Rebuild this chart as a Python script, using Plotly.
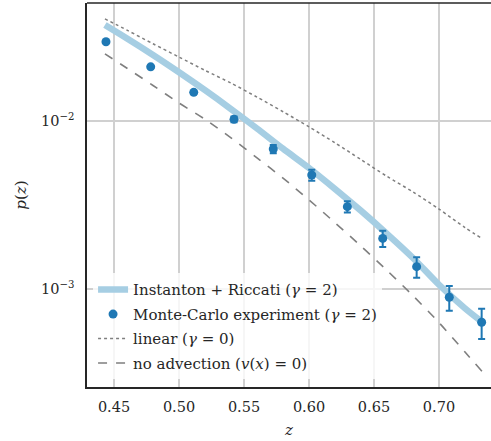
import plotly.graph_objects as go

# Instanton + Riccati curve
z_inst = [0.443, 0.46, 0.48, 0.50, 0.52, 0.54, 0.56, 0.58, 0.60, 0.62, 0.64, 0.66, 0.68, 0.70, 0.72, 0.733]
p_inst = [0.03724, 0.03097, 0.02472, 0.01950, 0.01524, 0.01178, 0.00902, 0.00684, 0.00525, 0.00394,
          0.00292, 0.00213, 0.00153, 0.00106, 0.000767, 0.000638]

# linear (gamma = 0)
z_lin = [0.443, 0.46, 0.48, 0.50, 0.52, 0.54, 0.56, 0.58, 0.60, 0.62, 0.64, 0.66, 0.68, 0.70, 0.72, 0.733]
p_lin = [0.0405, 0.0347, 0.0288, 0.0240, 0.0200, 0.0168, 0.01387, 0.01135, 0.00923, 0.00741,
         0.00589, 0.00468, 0.00378, 0.00299, 0.00232, 0.00200]

# no advection
z_noadv = [0.443, 0.46, 0.48, 0.50, 0.52, 0.54, 0.56, 0.58, 0.60, 0.62, 0.64, 0.66, 0.68, 0.70, 0.72, 0.733]
p_noadv = [0.0251, 0.0206, 0.01626, 0.01279, 0.01023, 0.00794, 0.00603, 0.00457, 0.00339, 0.00248,
           0.00180, 0.00129, 0.000912, 0.000631, 0.000422, 0.000324]

# Monte-Carlo experiment
z_mc = [0.4438, 0.4782, 0.5113, 0.5423, 0.5725, 0.6021, 0.6295, 0.6567, 0.6828, 0.7079, 0.7328]
p_mc = [0.0296, 0.0210, 0.0148, 0.01023, 0.00681, 0.00477, 0.00309, 0.00200, 0.001358, 0.000893, 0.000634]
err_mc = [0.0003, 0.0003, 0.0003, 0.0004, 0.00038, 0.00036, 0.00024, 0.00022, 0.00019, 0.00015, 0.00013]

x_ticks = [0.45, 0.50, 0.55, 0.60, 0.65, 0.70]
x_ticktext = ["0.45", "0.50", "0.55", "0.60", "0.65", "0.70"]
y_ticks = [1e-2, 1e-3]
y_ticktext = ["10<sup>−2</sup>", "10<sup>−3</sup>"]

FONT = "DejaVu Serif"
TXT = "#262626"

fig = go.Figure()
fig.add_trace(go.Scatter(x=z_inst, y=p_inst, mode="lines", name="Instanton + Riccati (<i>γ</i> = 2)",
                         legendgroup="a", line=dict(color="#a6cee3", width=6.5, shape="spline", smoothing=0.8)))
fig.add_trace(go.Scatter(x=z_mc, y=p_mc, mode="markers", name="Monte-Carlo experiment (<i>γ</i> = 2)",
                         legendgroup="b", marker=dict(color="#1f78b4", size=9),
                         error_y=dict(type="data", array=err_mc, color="#1f78b4", thickness=2, width=3.5)))
fig.add_trace(go.Scatter(x=z_lin, y=p_lin, mode="lines", name="linear (<i>γ</i> = 0)",
                         legendgroup="c", line=dict(color="#7f7f7f", width=1.5, dash="dot",
                                                    shape="spline", smoothing=0.8)))
fig.add_trace(go.Scatter(x=z_noadv, y=p_noadv, mode="lines", name="no advection (<i>v</i>(<i>x</i>) = 0)",
                         legendgroup="d", line=dict(color="#7f7f7f", width=1.6, dash="dash",
                                                    shape="spline", smoothing=0.8)))

fig.add_shape(type="line", xref="paper", yref="paper", x0=0, x1=1, y0=1, y1=1,
              line=dict(color=TXT, width=1.5))

fig.update_layout(
    width=491, height=441,
    margin=dict(l=87, r=0, t=3, b=54),
    paper_bgcolor="white", plot_bgcolor="white",
    font=dict(family=FONT, size=14.5, color=TXT),
    showlegend=True,
    legend=dict(x=0.015, y=0.02, xanchor="left", yanchor="bottom", traceorder="grouped", tracegroupgap=2,
                bgcolor="rgba(255,255,255,0.8)", font=dict(family=FONT, size=15, color=TXT)),
    xaxis=dict(range=[0.4292, 0.740], tickvals=x_ticks, ticktext=x_ticktext,
               showgrid=True, gridcolor="#d0d0d0", gridwidth=1.5, zeroline=False,
               showline=True, linecolor=TXT, linewidth=1.5, ticks="", ticklabelstandoff=6,
               title=dict(text="<i>z</i>", font=dict(size=15), standoff=10)),
    yaxis=dict(type="log", range=[-3.583, -1.298], tickvals=y_ticks, ticktext=y_ticktext,
               showgrid=True, gridcolor="#d0d0d0", gridwidth=1.5, zeroline=False,
               showline=True, linecolor=TXT, linewidth=1.5, ticks="", ticklabelstandoff=8,
               title=dict(text="<i>p</i>(<i>z</i>)", font=dict(size=15), standoff=11)),
)

fig.write_html("out.html", config={"displayModeBar": False},
               post_script="document.body.style.margin='0';")
